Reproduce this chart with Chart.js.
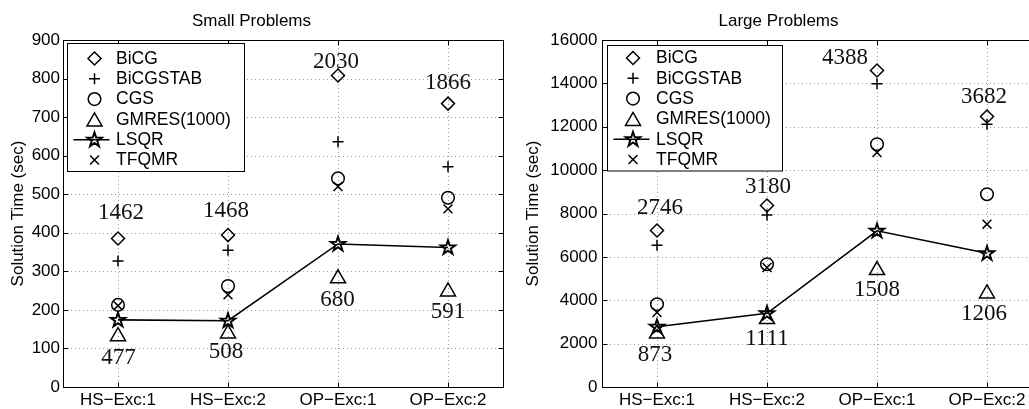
<!DOCTYPE html>
<html><head><meta charset="utf-8">
<script src="https://cdn.jsdelivr.net/npm/chart.js@4.4.0/dist/chart.umd.min.js"></script>
<style>
html,body{margin:0;padding:0;background:#fff;overflow:hidden;width:1029px;height:409px;}
canvas{position:absolute;top:0;}
#c1{left:0;}
#c2{left:515px;}
</style></head><body>
<canvas id="c1" width="515" height="409"></canvas>
<canvas id="c2" width="540" height="409"></canvas>
<script>
// ---------------- data ----------------
const categories = ['HS\u2212Exc:1', 'HS\u2212Exc:2', 'OP\u2212Exc:1', 'OP\u2212Exc:2'];
const seriesNames = ['BiCG', 'BiCGSTAB', 'CGS', 'GMRES(1000)', 'LSQR', 'TFQMR'];

// Small problems (seconds)
const smallBiCG     = [385, 394, 808, 735];
const smallBiCGSTAB = [327, 355, 636, 571];
const smallCGS      = [213, 262, 541, 491];
const smallGMRES    = [137, 144, 287, 253];
const smallLSQR     = [174, 172, 371, 362];
const smallTFQMR    = [211, 239, 520, 462];
const smallTopLabels    = ['1462', '1468', '2030', '1866'];
const smallBottomLabels = ['477', '508', '680', '591'];
const smallYMax = 900, smallYStep = 100;

// Large problems (seconds)
const largeBiCG     = [7216, 8369, 14594, 12473];
const largeBiCGSTAB = [6534, 7931, 13981, 12113];
const largeCGS      = [3818, 5663, 11196, 8890];
const largeGMRES    = [2559, 3228, 5487, 4404];
const largeLSQR     = [2780, 3398, 7202, 6165];
const largeTFQMR    = [3435, 5510, 10813, 7507];
const largeTopLabels    = ['2746', '3180', '4388', '3682'];
const largeBottomLabels = ['873', '1111', '1508', '1206'];
const largeYMax = 16000, largeYStep = 2000;

// ---------------- marker shapes ----------------
function drawTri(ctx, x, y) {
  const hw = 7.5, hh = 6.5;
  ctx.save();
  ctx.strokeStyle = '#000'; ctx.lineWidth = 1.5; ctx.lineJoin = 'miter'; ctx.setLineDash([]);
  ctx.beginPath(); ctx.moveTo(x, y - hh); ctx.lineTo(x + hw, y + hh); ctx.lineTo(x - hw, y + hh); ctx.closePath(); ctx.stroke();
  ctx.restore();
}
function drawStar(ctx, x, y) {
  const R = 7.6, r = R * 0.382, cy = y + 0.3;
  ctx.save();
  ctx.strokeStyle = '#000'; ctx.lineWidth = 1.9; ctx.lineJoin = 'miter'; ctx.setLineDash([]);
  ctx.beginPath();
  for (let k = 0; k < 10; k++) {
    const a = -Math.PI / 2 + k * Math.PI / 5;
    const rr = (k % 2 === 0) ? R : r;
    const px = x + rr * Math.cos(a), py = cy + rr * Math.sin(a);
    if (k === 0) ctx.moveTo(px, py); else ctx.lineTo(px, py);
  }
  ctx.closePath(); ctx.stroke();
  ctx.restore();
}

const markerDefs = [
  { style: 'rectRot', radius: 6.5 },
  { style: 'cross', radius: 5.5 },
  { style: 'circle', radius: 6.3 },
  { style: 'triangle', radius: 8, custom: drawTri },
  { style: 'star', radius: 8, custom: drawStar, line: true },
  { style: 'crossRot', radius: 6.3 }
];

function buildDatasets(series) {
  return series.map((vals, i) => {
    const m = markerDefs[i];
    const r = m.custom ? 0 : m.radius;
    return {
      label: seriesNames[i],
      data: vals,
      showLine: !!m.line,
      borderColor: '#000',
      borderWidth: m.line ? 1.6 : 0,
      backgroundColor: 'rgba(0,0,0,0)',
      pointStyle: m.style,
      pointRadius: r,
      pointHoverRadius: r,
      pointBorderColor: '#000',
      pointBackgroundColor: 'rgba(0,0,0,0)',
      pointBorderWidth: 1.5,
      tension: 0
    };
  });
}

const SANS = '"Liberation Sans", Arial, sans-serif';

// ---------------- plugins ----------------
const gridPlugin = {
  id: 'matGrid',
  beforeDatasetsDraw(chart) {
    const { ctx, chartArea: a, scales: { x, y } } = chart;
    ctx.save();
    ctx.strokeStyle = '#9a9a9a';
    ctx.lineWidth = 1;
    ctx.setLineDash([1, 3]);
    y.ticks.forEach(t => {
      if (t.value <= y.min || t.value >= y.max) return;
      const py = Math.round(y.getPixelForValue(t.value)) + 0.5;
      ctx.beginPath(); ctx.moveTo(a.left, py); ctx.lineTo(a.right, py); ctx.stroke();
    });
    categories.forEach((c, i) => {
      const px = Math.round(x.getPixelForValue(i)) + 0.5;
      ctx.beginPath(); ctx.moveTo(px, a.top); ctx.lineTo(px, a.bottom); ctx.stroke();
    });
    ctx.restore();
  },
  afterDatasetsDraw(chart) {
    const { ctx, chartArea: a, scales: { x, y } } = chart;
    ctx.save();
    ctx.strokeStyle = '#000';
    ctx.lineWidth = 1;
    const L = Math.round(a.left) + 0.5, T = Math.round(a.top) + 0.5;
    const Rr = Math.round(a.right) + 0.5, B = Math.round(a.bottom) + 0.5;
    ctx.strokeRect(L, T, Rr - L, B - T);
    const tl = 5;
    ctx.beginPath();
    y.ticks.forEach(t => {
      const py = Math.round(y.getPixelForValue(t.value)) + 0.5;
      ctx.moveTo(L, py); ctx.lineTo(L + tl, py);
      ctx.moveTo(Rr, py); ctx.lineTo(Rr - tl, py);
    });
    categories.forEach((c, i) => {
      const px = Math.round(x.getPixelForValue(i)) + 0.5;
      ctx.moveTo(px, B); ctx.lineTo(px, B - tl);
      ctx.moveTo(px, T); ctx.lineTo(px, T + tl);
    });
    ctx.stroke();
    ctx.restore();
  }
};

const customMarkerPlugin = {
  id: 'customMarkers',
  afterDatasetsDraw(chart) {
    const { ctx } = chart;
    chart.data.datasets.forEach((ds, i) => {
      const m = markerDefs[i];
      if (!m.custom) return;
      chart.getDatasetMeta(i).data.forEach(pt => m.custom(ctx, pt.x, pt.y));
    });
  }
};

const legendBoxPlugin = {
  id: 'matLegend',
  afterDatasetsDraw(chart, args, opts) {
    const { ctx, chartArea: a } = chart;
    const bx = Math.round(a.left + opts.dx) + 0.5, by = Math.round(a.top + opts.dy) + 0.5;
    const bw = opts.w, bh = opts.h;
    ctx.save();
    ctx.setLineDash([]);
    ctx.fillStyle = '#fff';
    ctx.fillRect(bx, by, bw, bh);
    ctx.strokeStyle = '#000'; ctx.lineWidth = 1;
    ctx.strokeRect(bx, by, bw, bh);
    ctx.font = '17.5px ' + SANS;
    ctx.textAlign = 'left'; ctx.textBaseline = 'middle';
    chart.data.datasets.forEach((ds, i) => {
      const m = markerDefs[i];
      const cy = by + opts.row0 + i * 20.3;
      const mx = bx + opts.mx;
      if (m.line) {
        ctx.beginPath(); ctx.lineWidth = 1.6; ctx.strokeStyle = '#000';
        ctx.moveTo(bx + 6, cy); ctx.lineTo(bx + 42, cy); ctx.stroke();
      }
      if (m.custom) {
        m.custom(ctx, mx, cy);
      } else {
        ctx.strokeStyle = '#000'; ctx.lineWidth = 1.5; ctx.fillStyle = 'rgba(0,0,0,0)';
        Chart.helpers.drawPoint(ctx, { pointStyle: m.style, radius: m.radius, rotation: 0, borderWidth: 1.5 }, mx, cy);
      }
      ctx.fillStyle = '#000';
      ctx.fillText(ds.label, bx + 48.5, cy + 0.5);
    });
    ctx.restore();
  }
};

const numLabelPlugin = {
  id: 'numLabels',
  afterDraw(chart, args, opts) {
    const { ctx } = chart;
    const top = chart.getDatasetMeta(0).data;
    const bot = chart.getDatasetMeta(3).data;
    ctx.save();
    ctx.font = '23px "Liberation Serif"';
    ctx.fillStyle = '#111';
    ctx.textAlign = 'center'; ctx.textBaseline = 'middle';
    opts.top.forEach((t, i) => {
      const o = opts.topOff[i];
      ctx.fillText(t, top[i].x + o[0], top[i].y + o[1]);
    });
    opts.bottom.forEach((t, i) => {
      const o = opts.botOff[i];
      ctx.fillText(t, bot[i].x + o[0], bot[i].y + o[1]);
    });
    ctx.restore();
  }
};

function makeChart(id, title, series, yMax, yStep, yWidth, padRight, yTickPad, topLabels, bottomLabels, topOff, botOff, legend) {
  return new Chart(document.getElementById(id), {
    type: 'line',
    data: { labels: categories, datasets: buildDatasets(series) },
    plugins: [gridPlugin, customMarkerPlugin, legendBoxPlugin, numLabelPlugin],
    options: {
      responsive: false,
      animation: false,
      devicePixelRatio: 1,
      events: [],
      layout: { padding: { left: 0, right: padRight, top: 0, bottom: 0 } },
      plugins: {
        legend: { display: false },
        tooltip: { enabled: false },
        title: {
          display: true, text: title, color: '#000',
          font: { family: SANS, size: 17, weight: 'normal' },
          padding: { top: 11, bottom: 8.6 }
        },
        matLegend: legend,
        numLabels: { top: topLabels, bottom: bottomLabels, topOff: topOff, botOff: botOff }
      },
      scales: {
        x: {
          type: 'category', offset: true,
          grid: { display: false, drawTicks: false }, border: { display: false },
          ticks: { color: '#000', font: { family: SANS, size: 17 }, padding: 3, maxRotation: 0, autoSkip: false },
          afterFit: s => { s.height = 22; }
        },
        y: {
          min: 0, max: yMax,
          grid: { display: false, drawTicks: false }, border: { display: false },
          ticks: { stepSize: yStep, color: '#000', font: { family: SANS, size: 17 }, padding: yTickPad, callback: v => String(v) },
          title: { display: true, text: 'Solution Time (sec)', color: '#000', font: { family: SANS, size: 17 }, padding: { top: 8, bottom: 0 } },
          afterFit: s => { s.width = yWidth; }
        }
      }
    }
  });
}

makeChart('c1', 'Small Problems',
  [smallBiCG, smallBiCGSTAB, smallCGS, smallGMRES, smallLSQR, smallTFQMR],
  smallYMax, smallYStep, 63, 12, 3,
  smallTopLabels, smallBottomLabels,
  [[3, -26], [-2, -24], [-2, -14], [0, -21]],
  [[0.5, 24], [-2, 20.5], [-0.5, 23.5], [0, 22]],
  { dx: 3.5, dy: 3, w: 177, h: 128, row0: 15, mx: 27 });

makeChart('c2', 'Large Problems',
  [largeBiCG, largeBiCGSTAB, largeCGS, largeGMRES, largeLSQR, largeTFQMR],
  largeYMax, largeYStep, 87, 13, 4.5,
  largeTopLabels, largeBottomLabels,
  [[3, -23], [1, -19], [-32, -13], [-3, -20]],
  [[-2, 23.5], [0, 21.5], [0, 22], [-3, 22.5]],
  { dx: 4.5, dy: 5, w: 175, h: 125.5, row0: 12.5, mx: 25.5 });
</script>
</body></html>
